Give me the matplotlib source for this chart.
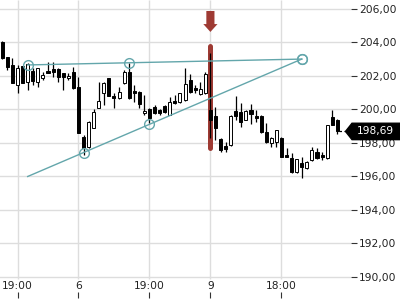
import numpy as np
import matplotlib
matplotlib.use("Agg")
import matplotlib.pyplot as plt
import matplotlib.transforms as mtransforms
from matplotlib.patches import Polygon

# candle data (index based, intraday)
opens = [204.05, 203.15, 202.66, 201.46, 202.60, 201.66, 202.32, 201.66, 201.86, 202.30,
         202.42, 202.42, 202.16, 201.86, 202.26, 201.36, 198.34, 197.78, 198.88, 200.07,
         200.97, 201.86, 200.81, 200.67, 201.56, 202.26, 201.12, 201.06, 199.77, 200.01,
         200.17, 199.97, 200.21, 199.67, 200.51, 200.43, 200.57, 201.76, 201.28, 200.91,
         201.00, 199.97, 199.61, 198.24, 197.82, 197.88, 199.93, 199.87, 199.37, 199.97,
         199.61, 199.61, 198.67, 197.98, 198.08, 198.32, 197.28, 197.09, 196.25, 196.79,
         196.49, 196.99, 197.44, 197.28, 197.09, 199.57, 199.37]
highs = [204.10, 203.15, 203.06, 202.66, 202.60, 202.75, 202.50, 202.46, 202.22, 202.85,
         202.84, 202.45, 202.20, 202.16, 202.56, 201.96, 198.48, 199.30, 200.00, 201.66,
         201.66, 201.90, 200.97, 201.36, 202.36, 202.78, 201.46, 201.10, 200.87, 200.10,
         200.27, 200.00, 200.25, 200.73, 200.87, 201.00, 202.48, 202.12, 201.46, 201.64,
         202.26, 203.36, 200.17, 198.30, 198.08, 199.70, 200.81, 200.39, 199.97, 200.33,
         199.97, 199.65, 199.18, 198.38, 198.80, 198.35, 197.68, 197.39, 197.05, 197.18,
         196.90, 197.74, 197.68, 197.48, 199.10, 199.97, 199.45]
lows = [203.00, 202.36, 201.56, 200.97, 201.56, 201.16, 201.46, 201.33, 201.76, 202.16,
        201.96, 201.66, 201.16, 201.76, 201.20, 198.60, 197.28, 197.70, 198.88, 200.07,
        200.27, 200.81, 200.07, 200.60, 201.50, 200.60, 200.47, 200.07, 199.70, 199.18,
        199.75, 199.67, 199.80, 199.65, 200.30, 200.40, 200.50, 201.00, 200.97, 200.85,
        200.95, 198.28, 198.18, 197.45, 197.48, 197.85, 199.37, 198.96, 199.35, 199.13,
        199.27, 198.60, 197.98, 197.78, 197.78, 197.15, 197.15, 196.19, 196.20, 195.93,
        196.45, 196.95, 197.05, 196.99, 197.05, 199.05, 198.52]
closes = [203.06, 202.56, 201.56, 202.50, 201.56, 202.70, 201.72, 202.46, 202.06, 202.18,
          202.26, 201.96, 201.96, 202.00, 201.27, 198.62, 197.68, 199.25, 199.87, 200.51,
          201.56, 200.81, 200.67, 201.06, 202.26, 200.67, 200.97, 200.31, 199.91, 199.51,
          199.81, 199.81, 199.87, 200.43, 200.37, 200.97, 201.52, 201.06, 201.16, 201.21,
          202.12, 199.37, 198.88, 197.58, 197.62, 199.63, 199.61, 199.27, 199.93, 199.73,
          199.51, 198.67, 198.08, 198.28, 198.78, 197.18, 197.18, 196.25, 197.04, 196.59,
          196.88, 197.58, 197.09, 197.18, 199.07, 199.07, 198.69]

# x axis labels
tick_idx = [3, 15, 29, 41, 55]
tick_labels = ["19:00", "6", "19:00", "9", "18:00"]
y_ticks = list(range(190, 207, 2))

# drawn trend lines: (index, price) pairs
upper_line_x = [5, 59]
upper_line_y = [202.66, 203.01]
upper_marks_x = [5, 25, 59]
lower_line_x = [5, 59]
lower_line_y = [196.0, 203.01]
lower_marks_x = [16, 29, 59]

highlight_idx = 41
highlight_range = [197.73, 203.82]

teal = "#63a6ab"
red = "#9e3a33"
grid_c = "#dddddd"

fig = plt.figure(figsize=(4, 3), dpi=100)
ax = fig.add_axes([0, 2.5 / 300, 351 / 400, 297.5 / 300])
ax.set_xlim(-0.453, 68.7)
ax.set_ylim(188.776, 206.537)
for s in ax.spines.values():
    s.set_visible(False)

# grid
ax.set_yticks(y_ticks)
ax.yaxis.grid(True, color=grid_c, lw=1, zorder=0)
ax.set_axisbelow(True)
ax.vlines(tick_idx, 189.88, 206.537, color=grid_c, lw=1, zorder=0)

ax.yaxis.tick_right()
ax.tick_params(axis="y", length=4, width=0.8, color="#333333", pad=2,
               labelsize=7.7, labelcolor="#222222")
ax.set_yticklabels([f"{v:.2f}".replace(".", ",") for v in y_ticks])

ax.set_xticks(tick_idx)
ax.set_xticklabels(tick_labels)
ax.tick_params(axis="x", direction="in", length=4, width=0.8, color="#333333",
               pad=-12, labelsize=7.7, labelcolor="#222222")

# highlight bar and arrow
ax.plot([highlight_idx, highlight_idx], highlight_range, color=red, lw=3.6,
        solid_capstyle="round", zorder=1)
arrow = Polygon([[highlight_idx - 0.8, 205.88], [highlight_idx + 0.8, 205.88],
                 [highlight_idx + 0.8, 205.10], [highlight_idx + 1.4, 205.10],
                 [highlight_idx, 204.63], [highlight_idx - 1.4, 205.10],
                 [highlight_idx - 0.8, 205.10]], closed=True, color=red, lw=0, zorder=1)
ax.add_patch(arrow)

# candles
o = np.array(opens)
c = np.array(closes)
h = np.array(highs)
l = np.array(lows)
x = np.arange(len(o))
up = c >= o
ax.vlines(x, l, h, color="black", lw=0.9, zorder=2)
body_lo = np.minimum(o, c)
body_h = np.maximum(np.abs(c - o), 0.08)
ax.bar(x[~up], body_h[~up], bottom=body_lo[~up], width=0.6, color="black",
       edgecolor="black", lw=0.7, zorder=2.1)
ax.bar(x[up], body_h[up], bottom=body_lo[up], width=0.6, color="white",
       edgecolor="black", lw=0.7, zorder=2.1)

# trend lines
ax.plot(upper_line_x, upper_line_y, color=teal, lw=1.0, zorder=3)
ax.plot(lower_line_x, lower_line_y, color=teal, lw=1.0, zorder=3)
up_k = (upper_line_y[1] - upper_line_y[0]) / (upper_line_x[1] - upper_line_x[0])
lo_k = (lower_line_y[1] - lower_line_y[0]) / (lower_line_x[1] - lower_line_x[0])
ax.plot(upper_marks_x, [upper_line_y[0] + up_k * (m - upper_line_x[0]) for m in upper_marks_x],
        "o", ms=7, mfc="none", mec=teal, mew=1.0, zorder=3)
ax.plot(lower_marks_x, [lower_line_y[0] + lo_k * (m - lower_line_x[0]) for m in lower_marks_x],
        "o", ms=7, mfc="none", mec=teal, mew=1.0, zorder=3)

# last price marker
last = closes[-1]
ax.plot([len(o) - 0.7, 67.8], [last, last], color="black", lw=0.9,
        ls=(0, (2, 2)), zorder=3, clip_on=False)
tr = mtransforms.blended_transform_factory(fig.transFigure, ax.transData)
hh = 0.49
tag = Polygon([[345.5 / 400, last], [352 / 400, last + hh], [1.0, last + hh],
               [1.0, last - hh], [352 / 400, last - hh]], closed=True,
              color="black", transform=tr, clip_on=False, zorder=10)
ax.add_patch(tag)
ax.text(357 / 400, last, f"{last:.2f}".replace(".", ","), transform=tr, color="white",
        fontsize=7.7, va="center", ha="left", zorder=11, clip_on=False)

fig.savefig("out.png", dpi=100)
